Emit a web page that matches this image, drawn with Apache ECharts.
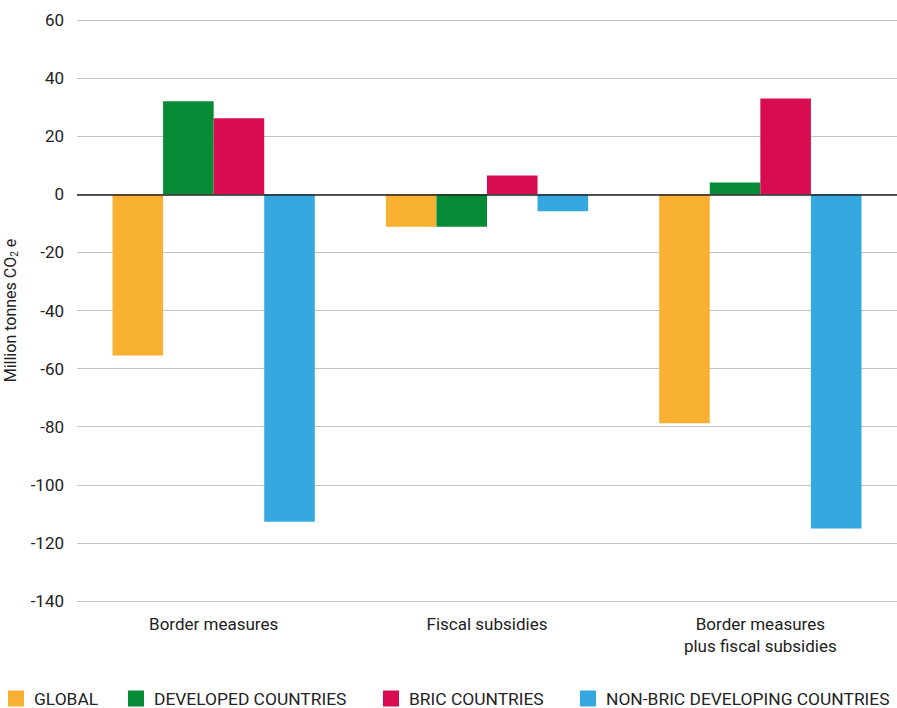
<!DOCTYPE html>
<html><head><meta charset="utf-8">
<script src="https://cdn.jsdelivr.net/npm/echarts@6/dist/echarts.min.js"></script>
<style>html,body{margin:0;padding:0;background:#fff}#c{width:897px;height:708px}</style>
</head><body><div id="c"></div>
<script>
const categories = ['Border measures', 'Fiscal subsidies', 'Border measures\nplus fiscal subsidies'];
const seriesNames = ['GLOBAL', 'DEVELOPED COUNTRIES', 'BRIC COUNTRIES', 'NON-BRIC DEVELOPING COUNTRIES'];
const globalVals = [-55.5, -11.2, -78.8];
const developedVals = [32, -11.2, 4.1];
const bricVals = [26.2, 6.5, 33];
const nonBricVals = [-112.7, -5.8, -115];
const colors = ['#F8B133', '#058B36', '#D70C51', '#35A8E0'];
const yTicks = {min: -140, max: 60, interval: 20};

const font = 'Roboto, "Noto Sans", sans-serif';
const data = [globalVals, developedVals, bricVals, nonBricVals];
const legendLefts = [8, 128, 383, 580];

const chart = echarts.init(document.getElementById('c'), null, {renderer: 'svg'});
chart.setOption({
  animation: false,
  textStyle: {fontFamily: font},
  grid: {left: 77, right: 0, top: 20, bottom: 107, containLabel: false, outerBoundsMode: 'none'},
  legend: seriesNames.map((n, i) => ({
    data: [n], left: legendLefts[i], top: 690, padding: 0, itemWidth: 16, itemHeight: 16, itemGap: 10,
    icon: 'rect', textStyle: {fontFamily: font, fontSize: 17.4, color: '#222', padding: [0,0,0,5]}
  })),
  xAxis: {
    type: 'category', data: categories, position: 'bottom',
    axisLine: {show: false}, axisTick: {show: false},
    axisLabel: {fontFamily: font, fontSize: 17, color: '#222', margin: 12, lineHeight: 22}
  },
  yAxis: {
    type: 'value', min: yTicks.min, max: yTicks.max, interval: yTicks.interval,
    name: 'Million tonnes CO{sub|2} e', nameLocation: 'middle', nameGap: 51, nameRotate: 90,
    nameTextStyle: {fontFamily: font, fontSize: 16, color: '#222',
      rich: {sub: {fontSize: 10, verticalAlign: 'bottom', padding: [8,0,0,0], fontFamily: font, color: '#222'}}},
    axisLine: {show: false}, axisTick: {show: false},
    axisLabel: {fontFamily: font, fontSize: 17, color: '#222', margin: 13},
    splitLine: {lineStyle: {color: '#c4c4c4', width: 1}}
  },
  series: seriesNames.map((n, i) => ({
    name: n, type: 'bar', data: data[i], barGap: '0%', barCategoryGap: '26%',
    itemStyle: {color: colors[i]},
    markLine: i === 0 ? {symbol: 'none', silent: true, label: {show: false},
      lineStyle: {color: '#222', width: 1.5, type: 'solid'}, data: [{yAxis: 0}]} : undefined,
    z: 2
  }))
});
</script></body></html>
